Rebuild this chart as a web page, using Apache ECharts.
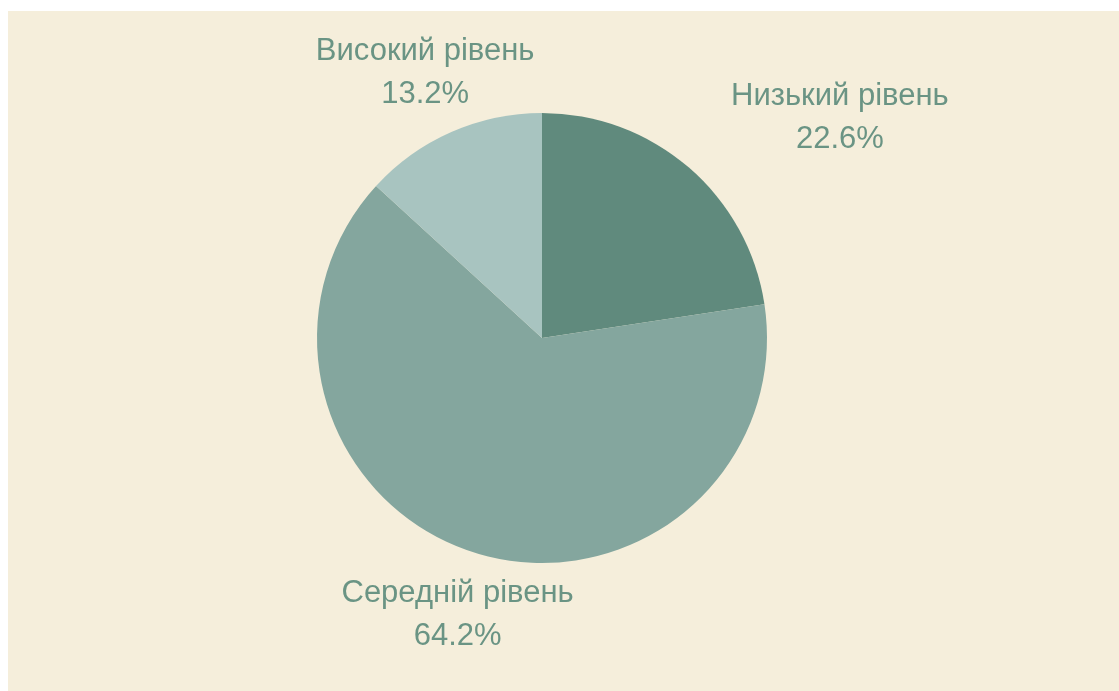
<!DOCTYPE html>
<html>
<head>
<meta charset="utf-8">
<script src="https://cdn.jsdelivr.net/npm/echarts@6/dist/echarts.min.js"></script>
<style>
  html, body { margin: 0; padding: 0; background: #ffffff; width: 1119px; height: 691px; overflow: hidden; }
  #chart { position: absolute; left: 8px; top: 11px; width: 1111px; height: 680px; background: #f5eedb; }
</style>
</head>
<body>
<div id="chart"></div>
<script>
// Share of respondents by level (percent)
const categories = ['Низький рівень', 'Середній рівень', 'Високий рівень'];
const shares = [22.6, 64.2, 13.2];

const sliceColors = ['#608a7d', '#84a69e', '#a8c4c0'];
// 'beside': label block starts at its anchor; 'centred': block is centred on the anchor
const labelPlacement = ['beside', 'centred', 'centred'];

const chart = echarts.init(document.getElementById('chart'), null, { renderer: 'canvas' });

chart.setOption({
  backgroundColor: '#f5eedb',
  animation: false,
  series: [{
    type: 'pie',
    center: [534, 327],
    radius: 225,
    startAngle: 90,
    clockwise: true,
    avoidLabelOverlap: false,
    data: categories.map((name, i) => ({
      name: name,
      value: shares[i],
      itemStyle: { color: sliceColors[i] }
    })),
    itemStyle: { borderWidth: 0 },
    label: {
      show: true,
      position: 'outside',
      distanceToLabelLine: 0,
      formatter: p => p.name + '\n' + p.value.toFixed(1) + '%',
      color: '#6a9484',
      fontFamily: 'Liberation Sans',
      fontSize: 31,
      lineHeight: 43
    },
    labelLine: { show: false, length: 65, length2: 0 },
    emphasis: { disabled: true },
    labelLayout: function (params) {
      const r = params.labelRect;
      let cx;
      if (labelPlacement[params.dataIndex] === 'beside') {
        cx = r.x + r.width / 2;
      } else if (params.align === 'right') {
        cx = r.x + r.width;
      } else if (params.align === 'left') {
        cx = r.x;
      } else {
        cx = r.x + r.width / 2;
      }
      return { x: cx, y: r.y + r.height / 2, align: 'center', verticalAlign: 'middle' };
    }
  }]
});
</script>
</body>
</html>
